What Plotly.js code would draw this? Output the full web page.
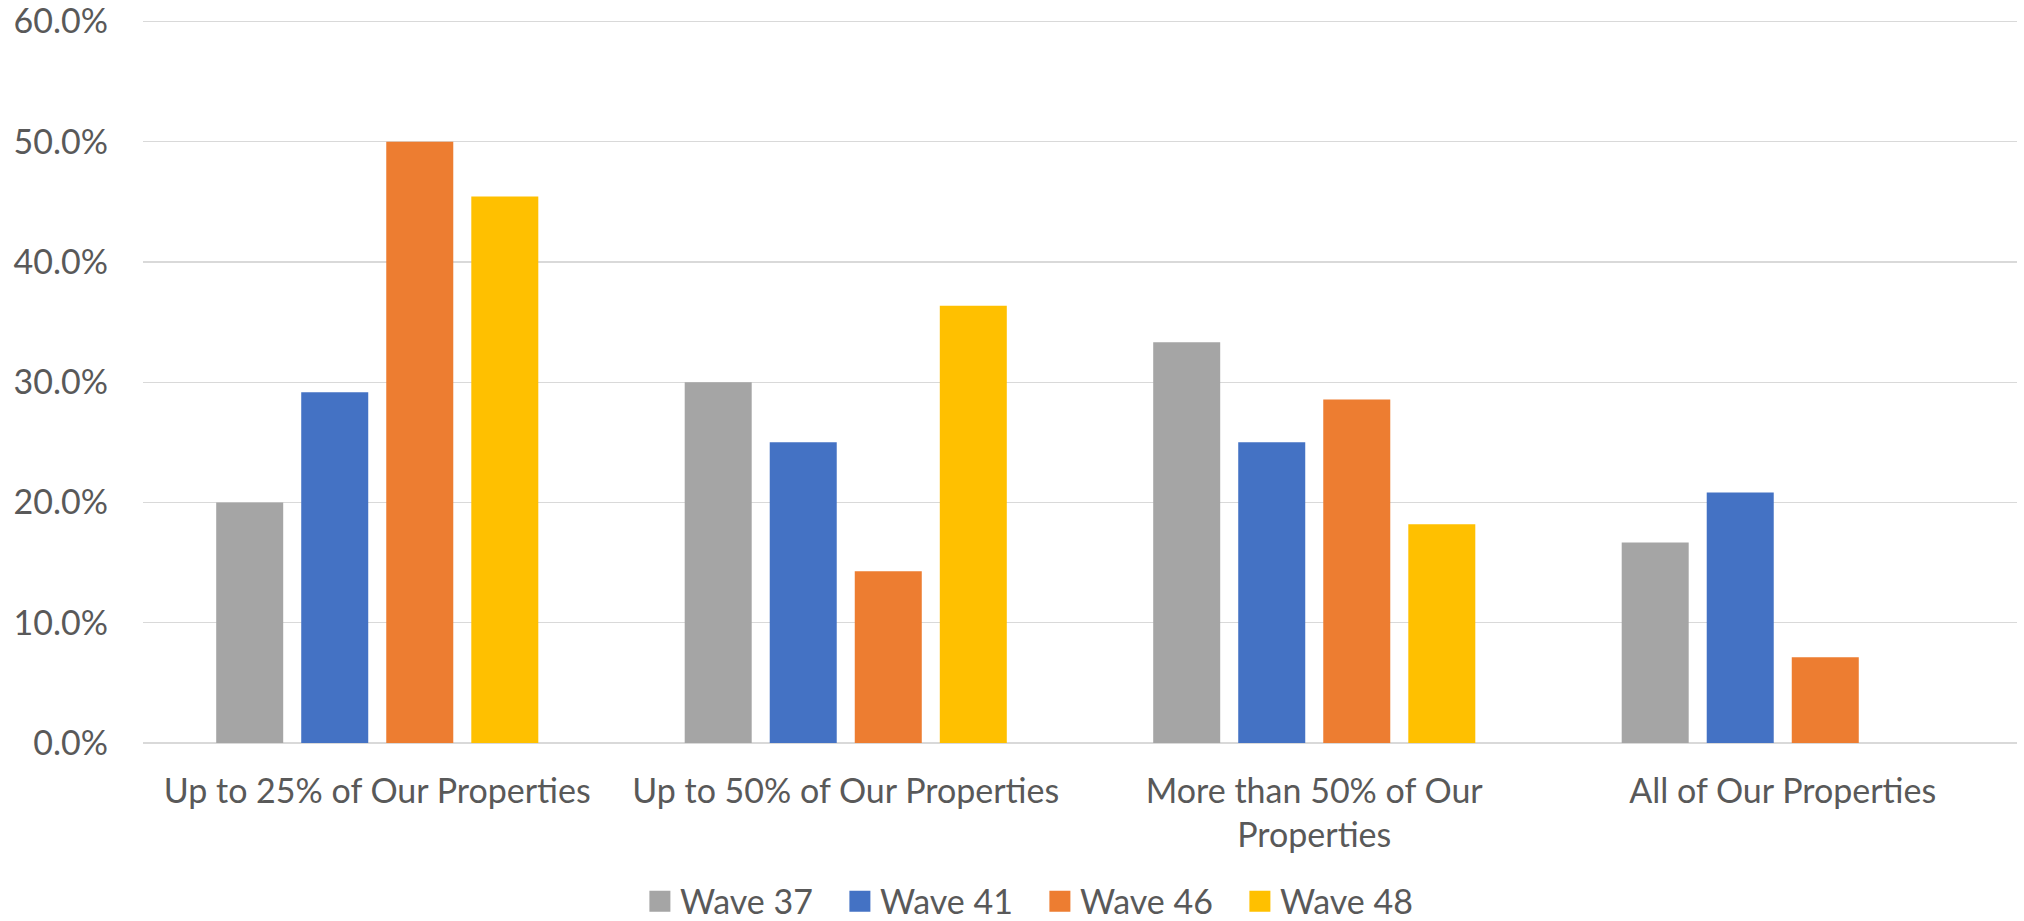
<!DOCTYPE html>
<html>
<head>
<meta charset="utf-8">
<script src="https://cdn.plot.ly/plotly-3.0.1.min.js"></script>
<style>
  html, body { margin: 0; padding: 0; background: #ffffff; }
  #chart { width: 2024px; height: 921px; }
</style>
</head>
<body>
<div id="chart"></div>
<script>
// Share of properties, by survey wave
const categories = [
  "Up to 25% of Our Properties",
  "Up to 50% of Our Properties",
  "More than 50% of Our<br>Properties",
  "All of Our Properties"
];
const wave37 = [0.200, 0.300, 0.3333, 0.1667];
const wave41 = [0.2917, 0.250, 0.250, 0.2083];
const wave46 = [0.500, 0.1429, 0.2857, 0.0714];
const wave48 = [0.4545, 0.3636, 0.1818, null];

const seriesNames = ["Wave 37", "Wave 41", "Wave 46", "Wave 48"];
const seriesColors = ["#A5A5A5", "#4472C4", "#ED7D31", "#FFC000"];
const seriesValues = [wave37, wave41, wave46, wave48];
const yTicks = [0, 0.1, 0.2, 0.3, 0.4, 0.5, 0.6];

const FONT = "Lato, 'Open Sans', sans-serif";
const TEXT = "#595959";

const traces = seriesValues.map((vals, i) => ({
  type: "bar",
  name: seriesNames[i],
  x: categories,
  y: vals,
  marker: { color: seriesColors[i], line: { width: 0 } },
  hoverinfo: "x+y+name"
}));

const layout = {
  width: 2024,
  height: 921,
  paper_bgcolor: "#ffffff",
  plot_bgcolor: "#ffffff",
  margin: { l: 143, r: 7, t: 19, b: 178, autoexpand: false },
  barmode: "group",
  bargap: 0.274,
  bargroupgap: 0.212,
  font: { family: FONT, color: TEXT, size: 34 },
  xaxis: {
    type: "category",
    automargin: false,
    showgrid: false,
    showline: false,
    ticks: "",
    tickfont: { family: FONT, size: 34, color: TEXT },
    ticklabelstandoff: 25,
    fixedrange: true
  },
  yaxis: {
    automargin: false,
    range: [0, 0.602],
    tickmode: "array",
    tickvals: yTicks,
    tickformat: ".1%",
    ticklabeloverflow: "allow",
    showgrid: true,
    gridcolor: "#D9D9D9",
    gridwidth: 1.3,
    zeroline: true,
    zerolinecolor: "#D9D9D9",
    zerolinewidth: 2,
    showline: false,
    ticks: "",
    ticklabelstandoff: 34,
    tickfont: { family: FONT, size: 34, color: TEXT },
    fixedrange: true
  },
  showlegend: true,
  legend: {
    orientation: "h",
    xref: "paper",
    yref: "paper",
    x: 0.4786,
    xanchor: "center",
    y: -0.219,
    yanchor: "middle",
    font: { family: FONT, size: 34, color: TEXT },
    entrywidth: 155,
    entrywidthmode: "pixels",
    bgcolor: "rgba(0,0,0,0)",
    borderwidth: 0
  }
};

Plotly.newPlot("chart", traces, layout, { displayModeBar: false, staticPlot: true }).then(gd => {
  // square legend swatches, about 21px across, kept at the usual symbol position
  gd.querySelectorAll(".legend .legendpoints path").forEach(p => {
    p.setAttribute("d", "M10.5,10.5H-10.5V-10.5H10.5Z");
    p.style.strokeWidth = "0";
  });
});
</script>
</body>
</html>
